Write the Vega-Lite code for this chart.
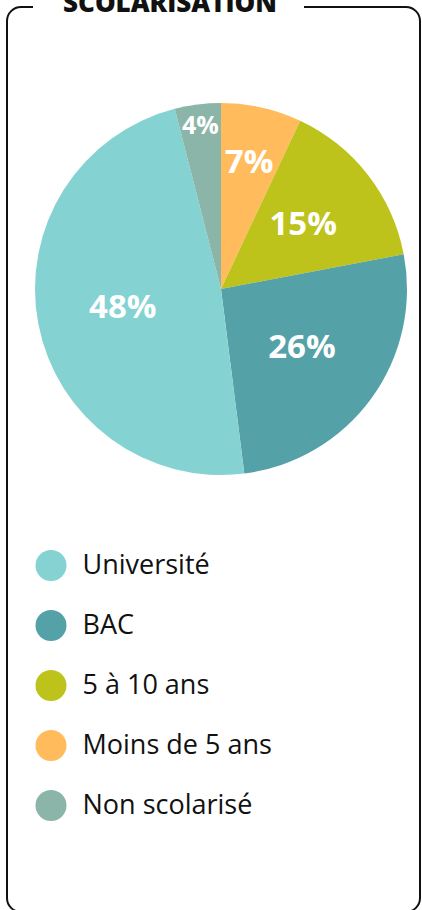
{
  "$schema": "https://vega.github.io/schema/vega-lite/v6.json",
  "width": 413,
  "height": 905,
  "autosize": "none",
  "padding": {"left": 7, "top": 7, "right": 2, "bottom": 0},
  "background": "white",
  "view": {"stroke": "#111111", "strokeWidth": 2, "cornerRadius": 14, "strokeDash": [12, 271, 5000]},
  "title": {
    "text": "SCOLARISATION",
    "anchor": "start",
    "frame": "group",
    "dx": 56,
    "offset": -31,
    "baseline": "alphabetic",
    "font": "Open Sans",
    "fontSize": 26,
    "fontWeight": 800,
    "color": "#111111"
  },
  "data": {
    "values": [
      {"categorie": "Moins de 5 ans", "pct": 0.07, "rang": 1},
      {"categorie": "5 à 10 ans", "pct": 0.15, "rang": 2},
      {"categorie": "BAC", "pct": 0.26, "rang": 3},
      {"categorie": "Université", "pct": 0.48, "rang": 4},
      {"categorie": "Non scolarisé", "pct": 0.04, "rang": 5}
    ]
  },
  "layer": [
    {
      "mark": {"type": "arc", "x": 214, "y": 282, "outerRadius": 186, "stroke": null},
      "encoding": {
        "theta": {"field": "pct", "type": "quantitative", "stack": true},
        "order": {"field": "rang", "type": "quantitative"},
        "color": {
          "field": "categorie",
          "type": "nominal",
          "scale": {
            "domain": ["Université", "BAC", "5 à 10 ans", "Moins de 5 ans", "Non scolarisé"],
            "range": ["#84D2D2", "#55A1A8", "#BDC31A", "#FFBB5C", "#8BB5A8"]
          },
          "legend": {
            "title": null,
            "orient": "none",
            "legendX": 28.5,
            "legendY": 543,
            "symbolType": "circle",
            "symbolSize": 961,
            "symbolStrokeWidth": 0,
            "symbolOpacity": 1,
            "labelFont": "Open Sans",
            "labelFontSize": 27,
            "labelColor": "#111111",
            "labelOffset": 16,
            "labelLimit": 400,
            "rowPadding": 29,
            "padding": 0
          }
        }
      }
    },
    {
      "mark": {
        "type": "text",
        "x": 214,
        "y": 282,
        "radius": {"expr": "datum.pct < 0.05 ? 164 : datum.pct < 0.1 ? 129 : datum.pct < 0.2 ? 104 : 100"},
        "fontSize": {"expr": "datum.pct < 0.05 ? 25 : 33"},
        "font": "Open Sans",
        "fontWeight": "bold",
        "fill": "white",
        "align": "center",
        "baseline": "middle"
      },
      "encoding": {
        "theta": {"field": "pct", "type": "quantitative", "stack": true},
        "order": {"field": "rang", "type": "quantitative"},
        "text": {"field": "pct", "type": "quantitative", "format": ".0%"}
      }
    }
  ]
}
